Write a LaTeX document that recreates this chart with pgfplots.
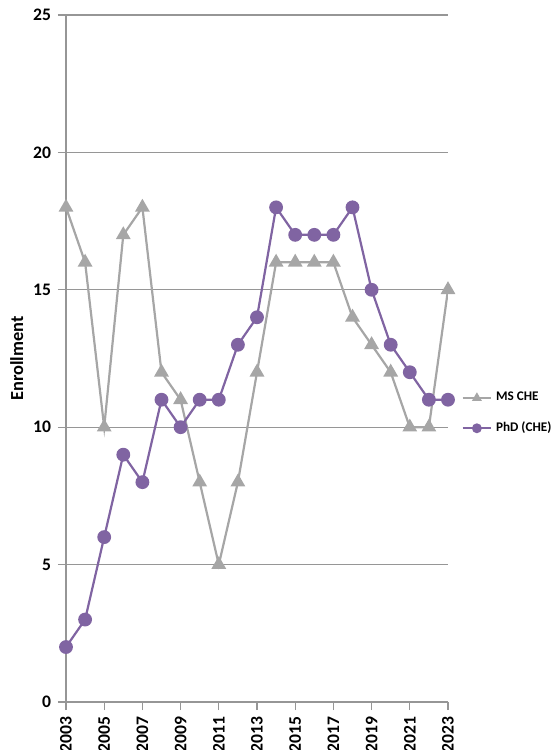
\documentclass[border=0pt]{standalone}
\usepackage{pgfplots}
\pgfplotsset{compat=1.18}
\usepackage{fontspec}
\setmainfont{Carlito}

\definecolor{msgray}{RGB}{166,166,166}
\definecolor{phdpurple}{RGB}{128,100,162}
\definecolor{gridgray}{RGB}{150,150,150}

\begin{document}
\begin{tikzpicture}
\begin{axis}[
    width=191pt, height=343.5pt,
    scale only axis,
    xmin=2003, xmax=2023,
    ymin=0, ymax=25,
    xtick={2003,2005,...,2023},
    ytick={0,5,...,25},
    axis x line*=bottom,
    axis y line*=left,
    axis line style={gridgray, line width=0.7pt},
    ymajorgrids,
    grid style={gridgray, line width=0.6pt},
    tick style={gridgray, line width=0.6pt},
    major tick length=4pt,
    tick align=outside,
    x tick label style={rotate=90, anchor=east, font=\bfseries\fontsize{8.8}{10}\selectfont},
    y tick label style={font=\bfseries\fontsize{8.8}{10}\selectfont},
    /pgf/number format/assume math mode=true,
    /pgf/number format/1000 sep={},
    ylabel={\bfseries Enrollment},
    ylabel style={font=\fontsize{9.2}{10}\selectfont, yshift=-2pt},
    legend style={at={(1.035,0.42)}, anchor=west, draw=none, fill=none,
        inner xsep=0pt, font=\bfseries\fontsize{6.6}{8}\selectfont, row sep=5pt},
    legend cell align=left,
    legend image code/.code={
        \draw[mark repeat=2, mark phase=2, mark size=2pt, line width=0.9pt, #1] plot coordinates {(0cm,0cm) (0.25cm,0cm) (0.5cm,0cm)};
    },
]
\addplot[msgray, line width=1.1pt, mark=triangle*, mark size=3.2pt] coordinates {
 (2003,18) (2004,16) (2005,10) (2006,17) (2007,18) (2008,12) (2009,11)
 (2010,8) (2011,5) (2012,8) (2013,12) (2014,16) (2015,16) (2016,16)
 (2017,16) (2018,14) (2019,13) (2020,12) (2021,10) (2022,10) (2023,15)};
\addlegendentry{MS CHE}
\addplot[phdpurple, line width=1.1pt, mark=*, mark size=2.9pt] coordinates {
 (2003,2) (2004,3) (2005,6) (2006,9) (2007,8) (2008,11) (2009,10)
 (2010,11) (2011,11) (2012,13) (2013,14) (2014,18) (2015,17) (2016,17)
 (2017,17) (2018,18) (2019,15) (2020,13) (2021,12) (2022,11) (2023,11)};
\addlegendentry{PhD (CHE)}
\end{axis}
\pgfresetboundingbox
\path (-33pt,-24pt) rectangle (243.5pt,351pt);
\end{tikzpicture}
\end{document}
